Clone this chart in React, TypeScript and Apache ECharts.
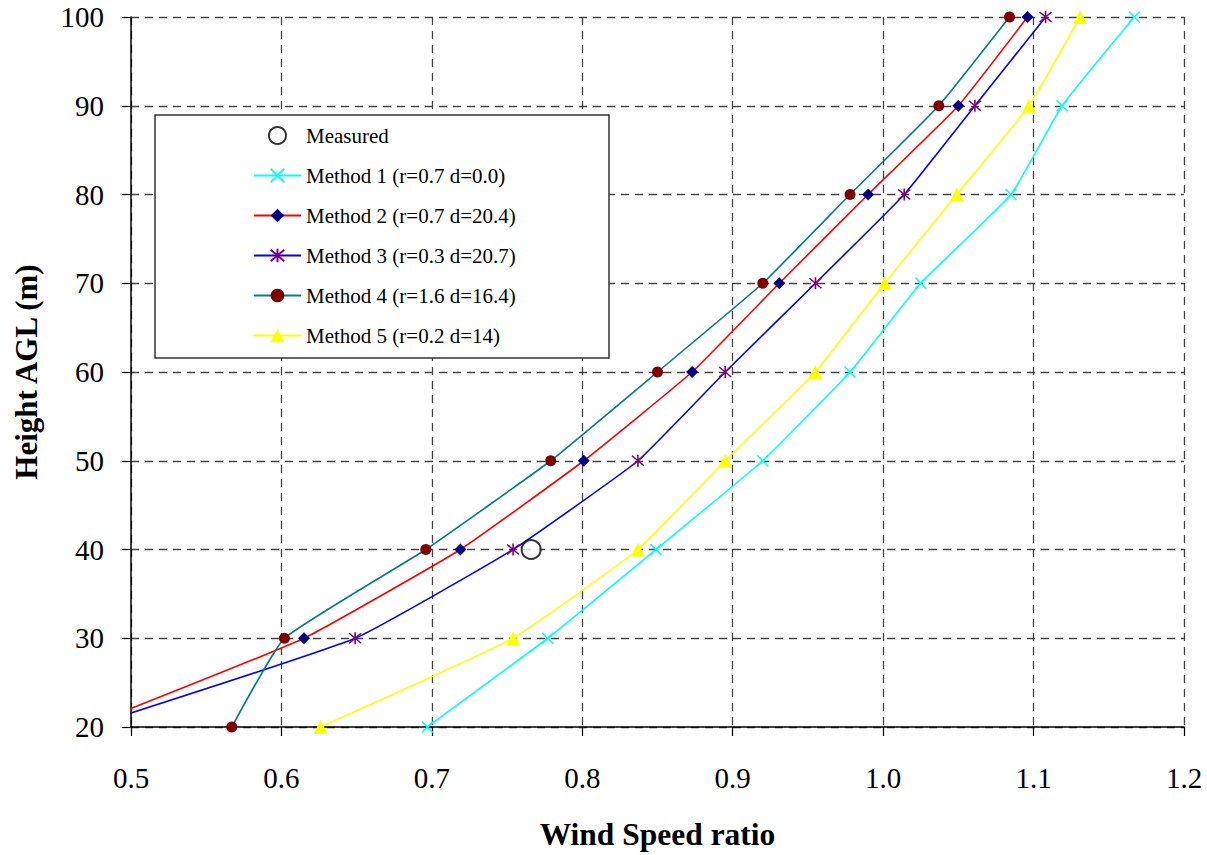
import React, { useEffect, useRef } from "react";
import * as echarts from "echarts";

const heights = [20, 30, 40, 50, 60, 70, 80, 90, 100];
const method1 = [0.697, 0.777, 0.849, 0.92, 0.978, 1.025, 1.085, 1.119, 1.167];
const method2 = [0.469, 0.615, 0.719, 0.801, 0.873, 0.931, 0.99, 1.05, 1.096];
const method3 = [0.471, 0.649, 0.754, 0.837, 0.895, 0.955, 1.014, 1.061, 1.108];
const method4 = [0.567, 0.602, 0.696, 0.779, 0.85, 0.92, 0.978, 1.037, 1.084];
const method5 = [0.626, 0.754, 0.837, 0.895, 0.955, 1.001, 1.049, 1.097, 1.131];
const measuredX = [0.766];
const measuredY = [40];

const names = [
  "Measured",
  "Method 1 (r=0.7 d=0.0)",
  "Method 2 (r=0.7 d=20.4)",
  "Method 3 (r=0.3 d=20.7)",
  "Method 4 (r=1.6 d=16.4)",
  "Method 5 (r=0.2 d=14)",
];

const FONT = "'Liberation Serif', 'Times New Roman', serif";

const pair = (xs: number[]) => xs.map((x, i) => [x, heights[i]]);

export default function App() {
  const ref = useRef<HTMLDivElement>(null);
  useEffect(() => {
    if (!ref.current) return;
    const chart = echarts.init(ref.current, undefined, { renderer: "svg" });
    const lineBase = (name: string, data: number[][], color: string, symbol: string, symbolSize: number, markColor: string, stroke: boolean) => ({
      name,
      type: "line",
      data,
      smooth: 0.12,
      clip: true,
      symbol,
      symbolSize,
      lineStyle: { color, width: 1.6 },
      itemStyle: stroke
        ? { color: markColor, borderColor: markColor, borderWidth: 1.6 }
        : { color: markColor, borderWidth: 0 },
      z: 2,
    });
    chart.setOption({
      animation: false,
      backgroundColor: "#ffffff",
      textStyle: { fontFamily: FONT },
      grid: { left: 131, right: 23, top: 17, bottom: 127 },
      graphic: [
        {
          type: "rect",
          z: 3,
          shape: { x: 155, y: 115, width: 454, height: 243 },
          style: { fill: "#ffffff", stroke: "#333333", lineWidth: 1.5 },
        },
      ],
      legend: {
        data: names,
        orient: "vertical",
        left: 248,
        top: 120,
        padding: 5,
        itemWidth: 47,
        itemHeight: 17,
        itemGap: 19,
        z: 5,
        textStyle: { fontFamily: FONT, fontSize: 21, color: "#000" },
      },
      xAxis: {
        type: "value",
        min: 0.5,
        max: 1.2,
        interval: 0.1,
        name: "Wind Speed ratio",
        nameLocation: "middle",
        nameGap: 91,
        nameTextStyle: { fontFamily: FONT, fontSize: 31.5, fontWeight: "bold", color: "#000" },
        axisLine: { show: true, onZero: false, lineStyle: { color: "#000", width: 1.5 } },
        axisTick: { show: true, inside: false, length: 9, lineStyle: { color: "#000", width: 1.2 } },
        axisLabel: {
          margin: 36,
          fontFamily: FONT,
          fontSize: 29,
          color: "#000",
          formatter: (v: number) => v.toFixed(1),
        },
        splitLine: { show: true, lineStyle: { color: "#444", width: 1.3, type: [8, 6] } },
      },
      yAxis: {
        type: "value",
        min: 20,
        max: 100,
        interval: 10,
        name: "Height AGL (m)",
        nameLocation: "middle",
        nameGap: 89,
        nameTextStyle: { fontFamily: FONT, fontSize: 31, fontWeight: "bold", color: "#000" },
        axisLine: { show: true, onZero: false, lineStyle: { color: "#000", width: 1.5 } },
        axisTick: { show: true, inside: false, length: 9, lineStyle: { color: "#000", width: 1.2 } },
        axisLabel: { margin: 27, fontFamily: FONT, fontSize: 29, color: "#000", padding: [8, 0, 0, 0] },
        splitLine: { show: true, lineStyle: { color: "#444", width: 1.3, type: [8, 6] } },
      },
      series: [
        lineBase(names[1], pair(method1), "#00FFFF", "path://M0,0L10,10M10,0L0,10", 11, "#00FFFF", true),
        lineBase(names[2], pair(method2), "#FF0000", "diamond", 12, "#000080", false),
        lineBase(names[3], pair(method3), "#0000FF", "path://M0,0L10,10M10,0L0,10M5,-1L5,11", 12, "#800080", true),
        lineBase(names[4], pair(method4), "#008080", "circle", 11, "#800000", false),
        lineBase(names[5], pair(method5), "#FFFF00", "triangle", 14, "#FFFF00", false),
        {
          name: names[0],
          type: "scatter",
          data: measuredX.map((x, i) => [x, measuredY[i]]),
          symbol: "circle",
          symbolSize: 19,
          itemStyle: { color: "#ffffff", borderColor: "#000", borderWidth: 2 },
          z: 6,
        },
      ],
    });
    return () => chart.dispose();
  }, []);
  return (
    <div
      ref={ref}
      style={{ position: "absolute", left: 0, top: 0, width: 1207, height: 855, background: "#fff" }}
    />
  );
}
